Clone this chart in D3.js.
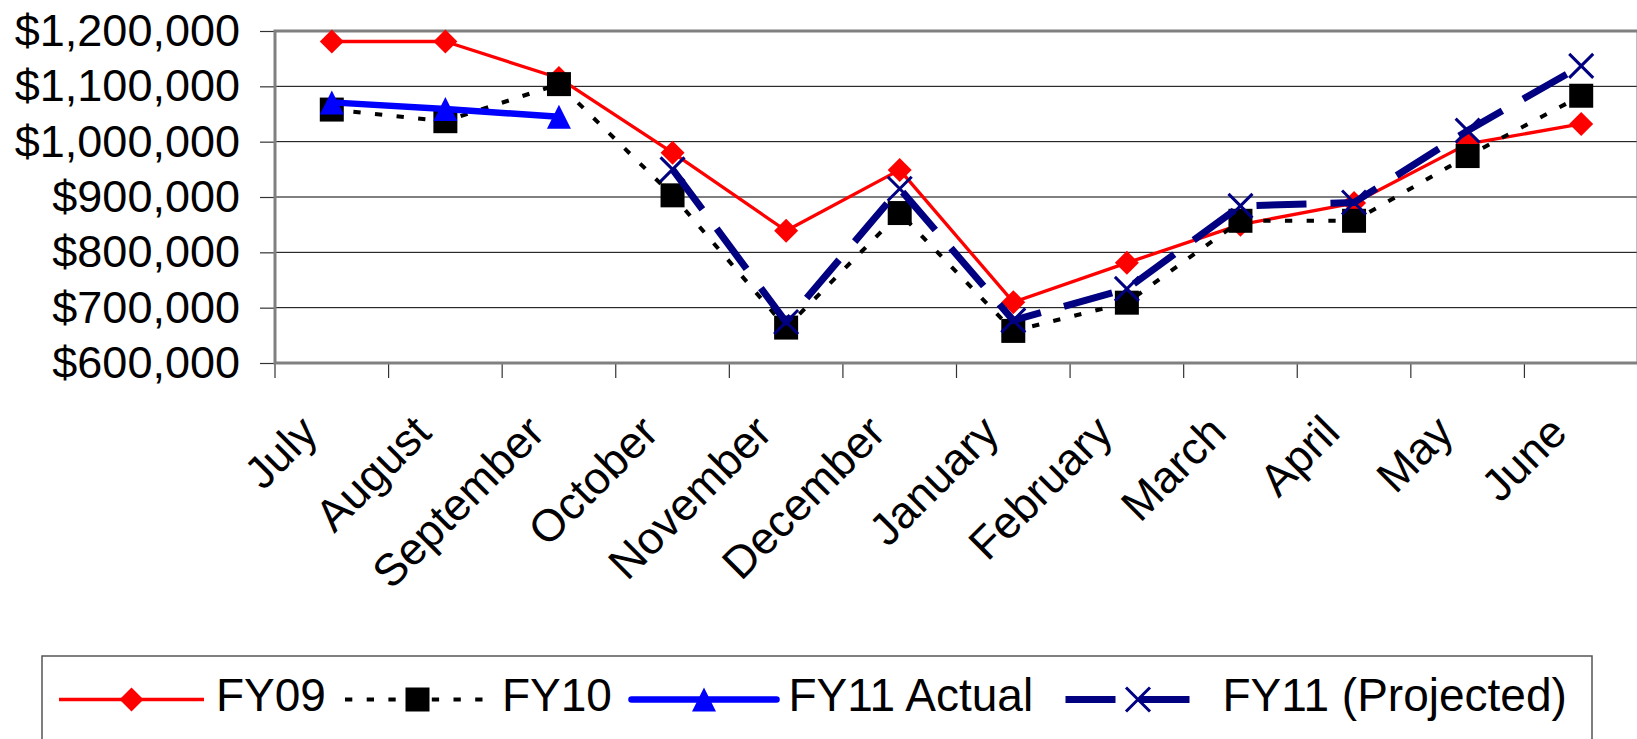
<!DOCTYPE html>
<html>
<head>
<meta charset="utf-8">
<script src="https://cdn.jsdelivr.net/npm/d3@7"></script>
<style>
  html, body { margin: 0; padding: 0; background: #fff; }
  svg { display: block; }
  text { font-family: "Liberation Sans", Arial, Helvetica, sans-serif; fill: #000; }
</style>
</head>
<body>
<svg id="chart" width="1637" height="739"></svg>
<script>
// Fiscal-year months (July through June)
const months = ["July", "August", "September", "October", "November", "December",
                "January", "February", "March", "April", "May", "June"];

// Monthly totals per fiscal year
const fy09 = [1181000, 1181000, 1115000, 980000, 839000, 949000,
              710000, 781000, 850000, 889000, 996000, 1032000];
const fy10 = [1058000, 1037000, 1104000, 903000, 664000, 871000,
              658000, 709000, 857000, 857000, 974000, 1083000];
const fy11Actual = [1071000, 1059000, 1045000, null, null, null,
                    null, null, null, null, null, null];
const fy11Projected = [null, null, null, 950000, 674000, 915000,
                       677000, 734000, 884000, 890000, 1020000, 1137000];

const seriesNames = ["FY09", "FY10", "FY11 Actual", "FY11 (Projected)"];
const yTicks = [600000, 700000, 800000, 900000, 1000000, 1100000, 1200000];

// Drawing styles for each series
const styles = [
  { color: "#FF0000", width: 3.3, dash: null,        cap: "butt",  marker: "diamond" },
  { color: "#000000", width: 4,   dash: "7.3,14.4",  cap: "butt",  marker: "square" },
  { color: "#0000FF", width: 6.5, dash: null,        cap: "round", marker: "triangle" },
  { color: "#000080", width: 7,   dash: "50,24",     cap: "butt",  marker: "cross" }
];
const seriesValues = [fy09, fy10, fy11Actual, fy11Projected];

const svg = d3.select("#chart");

const plot = { left: 275, right: 1638, top: 31, bottom: 363 };
const axisFont = 45;

const x = d3.scaleBand().domain(months).range([plot.left, plot.right]).padding(0);
const y = d3.scaleLinear().domain([600000, 1200000]).range([plot.bottom, plot.top]);
const cx = m => x(m) + x.bandwidth() / 2;

// Horizontal gridlines
svg.append("g")
  .selectAll("line")
  .data(yTicks.filter(v => v > 600000 && v < 1200000))
  .join("line")
  .attr("x1", plot.left).attr("x2", plot.right)
  .attr("y1", d => y(d)).attr("y2", d => y(d))
  .attr("stroke", "#000").attr("stroke-width", 1);

// Y axis with dollar labels
const yAxis = svg.append("g")
  .attr("transform", `translate(${plot.left},0)`)
  .call(d3.axisLeft(y).tickValues(yTicks).tickSize(15).tickPadding(20)
          .tickFormat(d3.format("$,")));
yAxis.select(".domain").remove();
yAxis.selectAll(".tick line").attr("stroke", "#333").attr("stroke-width", 1.2);
yAxis.selectAll(".tick text")
  .attr("font-size", axisFont)
  .attr("font-family", "\"Liberation Sans\", Arial, sans-serif")
  .attr("fill", "#000");

// X axis: month labels rotated 45 degrees
const xAxis = svg.append("g")
  .attr("transform", `translate(0,${plot.bottom})`)
  .call(d3.axisBottom(x).tickSize(0).tickPadding(0));
xAxis.select(".domain").remove();
xAxis.selectAll(".tick text")
  .attr("font-size", axisFont)
  .attr("font-family", "\"Liberation Sans\", Arial, sans-serif")
  .attr("fill", "#000")
  .attr("text-anchor", "end")
  .attr("x", 0).attr("y", 0).attr("dy", 0)
  .attr("transform", "translate(-12,72) rotate(-45)");

// Tick marks at category boundaries
const boundaries = months.map(m => x(m)).concat([plot.right]);
svg.append("g")
  .selectAll("line")
  .data(boundaries)
  .join("line")
  .attr("x1", d => d).attr("x2", d => d)
  .attr("y1", plot.bottom).attr("y2", plot.bottom + 15)
  .attr("stroke", "#333").attr("stroke-width", 1.2);

// Plot-area frame
svg.append("rect")
  .attr("x", plot.left).attr("y", plot.top)
  .attr("width", plot.right - plot.left).attr("height", plot.bottom - plot.top)
  .attr("fill", "none").attr("stroke", "#808080").attr("stroke-width", 3);

// Marker shapes centred on (0,0)
function markerPath(type, s) {
  const h = s / 2;
  switch (type) {
    case "diamond":  return `M0,${-h}L${h},0L0,${h}L${-h},0Z`;
    case "square":   return `M${-h},${-h}H${h}V${h}H${-h}Z`;
    case "triangle": return `M0,${-h}L${h},${h}L${-h},${h}Z`;
    case "cross":    return `M${-h},${-h}L${h},${h}M${h},${-h}L${-h},${h}`;
  }
}
function drawMarker(g, type, color, s) {
  const p = g.append("path").attr("d", markerPath(type, s));
  if (type === "cross") {
    p.attr("fill", "none").attr("stroke", color).attr("stroke-width", 3);
  } else {
    p.attr("fill", color).attr("stroke", "none");
  }
  return p;
}

const line = d3.line()
  .defined(d => d.v != null)
  .x(d => cx(d.m))
  .y(d => y(d.v));

// Series lines with their markers
seriesValues.forEach((vals, si) => {
  const st = styles[si];
  const pts = vals.map((v, i) => ({ m: months[i], v }));
  const g = svg.append("g").attr("class", "series");
  g.append("path")
    .datum(pts)
    .attr("d", line)
    .attr("fill", "none")
    .attr("stroke", st.color)
    .attr("stroke-width", st.width)
    .attr("stroke-linecap", st.cap)
    .attr("stroke-linejoin", "round")
    .attr("stroke-dasharray", st.dash);
  pts.filter(d => d.v != null).forEach(d => {
    const mg = g.append("g").attr("transform", `translate(${cx(d.m)},${y(d.v)})`);
    drawMarker(mg, st.marker, st.color, 24);
  });
});

// Legend
const legend = { x: 42, y: 656, w: 1550, h: 110, cy: 699.5, half: 72.5,
                 textDx: 84.5, baseline: 710.7, fontSize: 46,
                 markerX: [131.5, 417.5, 704, 1138] };
const lg = svg.append("g").attr("class", "legend");
lg.append("rect")
  .attr("x", legend.x).attr("y", legend.y)
  .attr("width", legend.w).attr("height", legend.h)
  .attr("fill", "#fff").attr("stroke", "#555").attr("stroke-width", 1.5);

seriesNames.forEach((name, i) => {
  const st = styles[i];
  const mx = legend.markerX[i];
  lg.append("line")
    .attr("x1", mx - legend.half).attr("x2", mx + legend.half)
    .attr("y1", legend.cy).attr("y2", legend.cy)
    .attr("stroke", st.color)
    .attr("stroke-width", st.width)
    .attr("stroke-linecap", st.cap)
    .attr("stroke-dasharray", st.dash);
  const mg = lg.append("g").attr("transform", `translate(${mx},${legend.cy})`);
  drawMarker(mg, st.marker, st.color, 24);
  lg.append("text")
    .attr("x", mx + legend.textDx)
    .attr("y", legend.baseline)
    .attr("font-size", legend.fontSize)
    .text(name);
});
</script>
</body>
</html>
